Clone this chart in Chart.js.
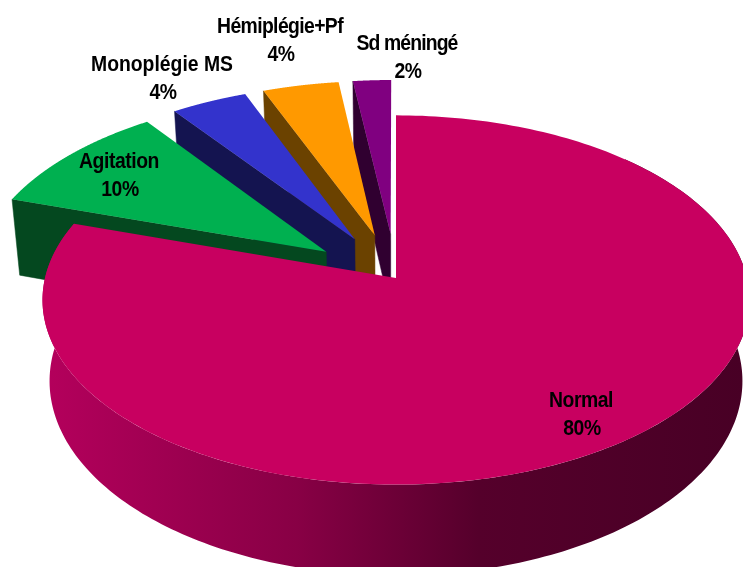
<!DOCTYPE html>
<html>
<head>
<meta charset="utf-8">
<style>
html,body{margin:0;padding:0;background:#fff;overflow:hidden}
canvas{display:block}
</style>
<script src="https://cdn.jsdelivr.net/npm/chart.js@4/dist/chart.umd.min.js"></script>
</head>
<body>
<canvas id="c" width="743" height="567"></canvas>
<script>
const categories = ['Normal', 'Agitation', 'Monoplégie MS', 'Hémiplégie+Pf', 'Sd méningé'];
const percentages = [80, 10, 4, 4, 2];
const explodePercent = [0, 25, 25, 25, 25];
const topColors = ['#C80060', '#00B050', '#3333CC', '#FF9900', '#800080'];
const sideColors = ['#8a0048', '#04481F', '#141450', '#6B4200', '#300030'];
const labelCentres = [[581, 401], [119, 162], [162, 65], [280, 27], [407, 44]];
const labelSpacing = [-0.5, -0.5, 0, -0.7, -1];

// Oblique projection of the unit disc
const view = {cx: 396, cy: 278, rx: 351, ry: 182, persp: 0.119, depth: 80, bottomScale: 0.98};

function project(u, v, low) {
  const s = 1 / (1 - view.persp * v);
  const x = view.rx * u * s, y = view.ry * v * s;
  return low
    ? [view.cx + x * view.bottomScale, view.cy + y + view.depth * s]
    : [view.cx + x, view.cy + y];
}

const pie3d = {
  id: 'pie3d',
  beforeDatasetDraw(chart, args) {
    const ctx = chart.ctx, meta = args.meta;
    const pieces = meta.data.map((arc, i) => {
      const a0 = arc.startAngle + Math.PI / 2, a1 = arc.endAngle + Math.PI / 2;
      const mid = (a0 + a1) / 2, d = (arc.options.offset || 0) / 100;
      return {i, a0, a1, ox: Math.sin(mid) * d, oy: -Math.cos(mid) * d};
    });
    const rim = (p, a, low) => project(Math.sin(a) + p.ox, -Math.cos(a) + p.oy, low);
    const poly = pts => {
      ctx.beginPath();
      pts.forEach((q, k) => k ? ctx.lineTo(q[0], q[1]) : ctx.moveTo(q[0], q[1]));
      ctx.closePath();
    };
    ctx.save();
    // back to front: the smallest exploded slice first, the large one last
    pieces.slice().reverse().forEach(p => {
      const apexTop = project(p.ox, p.oy, false), apexLow = project(p.ox, p.oy, true);
      const top = [apexTop];
      const N = 240;
      for (let k = 0; k <= N; k++) top.push(rim(p, p.a0 + (p.a1 - p.a0) * k / N, false));
      if (p.i === 0) {
        const g = ctx.createLinearGradient(45, 0, 745, 0);
        g.addColorStop(0, '#B4005C');
        g.addColorStop(0.36, '#880045');
        g.addColorStop(0.62, '#55002B');
        g.addColorStop(1, '#480025');
        const up = [], down = [];
        const from = Math.PI / 4, to = p.a1;
        for (let k = 0; k <= N; k++) {
          const a = from + (to - from) * k / N;
          up.push(rim(p, a, false));
          down.unshift(rim(p, a, true));
        }
        poly(up.concat(down));
        ctx.fillStyle = g;
        ctx.fill();
      } else {
        const e = p.a0;
        poly([apexTop, rim(p, e, false), rim(p, e, true), apexLow]);
        ctx.fillStyle = sideColors[p.i];
        ctx.fill();
        ctx.strokeStyle = sideColors[p.i];
        ctx.lineWidth = 0.5;
        ctx.stroke();
      }
      poly(top);
      ctx.fillStyle = topColors[p.i];
      ctx.fill();
    });
    // data labels: tall, condensed bold type
    ctx.fillStyle = '#000';
    ctx.textAlign = 'center';
    ctx.textBaseline = 'middle';
    ctx.font = 'bold 22px "Liberation Sans", Arial, sans-serif';
    const put = (text, x, y, sp) => {
      ctx.save();
      ctx.translate(x, y);
      ctx.scale(0.88, 1);
      ctx.letterSpacing = sp + 'px';
      ctx.fillText(text, 0, 0);
      ctx.restore();
    };
    categories.forEach((name, i) => {
      const c = labelCentres[i];
      put(name, c[0], c[1], labelSpacing[i]);
      put(percentages[i] + '%', c[0] + 1, c[1] + 28, -0.5);
    });
    ctx.restore();
    return false;
  }
};

new Chart(document.getElementById('c'), {
  type: 'pie',
  data: {
    labels: categories,
    datasets: [{
      data: percentages,
      backgroundColor: topColors,
      offset: explodePercent,
      borderWidth: 0
    }]
  },
  options: {
    responsive: false,
    animation: false,
    rotation: 0,
    plugins: {legend: {display: false}, tooltip: {enabled: false}}
  },
  plugins: [pie3d]
});
</script>
</body>
</html>
